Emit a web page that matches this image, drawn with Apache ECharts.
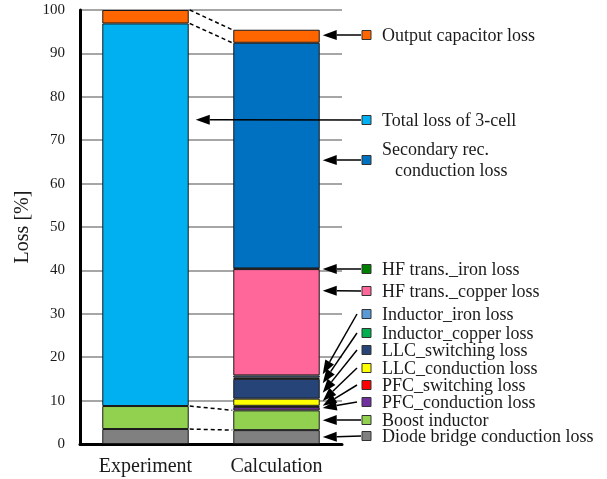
<!DOCTYPE html>
<html>
<head>
<meta charset="utf-8">
<script src="https://cdn.jsdelivr.net/npm/echarts@6/dist/echarts.min.js"></script>
<style>
  html, body { margin: 0; padding: 0; background: #fff; }
  #lossChart { width: 607px; height: 479px; }
</style>
</head>
<body>
<div id="lossChart"></div>
<script>
// ---- data (stack order: bottom -> top) ----
const categories = ["Experiment", "Calculation"];
const diodeBridge    = [3.45, 3.2];
const boostInductor  = [5.3, 4.55];
const pfcConduction  = [null, 0.75];
const pfcSwitching   = [null, 0.3];
const llcConduction  = [null, 1.65];
const llcSwitching   = [null, 4.55];
const inductorCopper = [null, 0.3];
const inductorIron   = [null, 0.5];
const hfCopper       = [null, 24.5];
const hfIron         = [null, 0.15];
const totalLoss3Cell = [88.15, null];
const secondaryRec   = [null, 52.0];
const outputCap      = [3.1, 3.0];

const yMin = 0, yMax = 100, yStep = 10;

const layers = [
  { name: "Diode bridge conduction loss", data: diodeBridge, color: "#808080" },
  { name: "Boost inductor", data: boostInductor, color: "#92D050" },
  { name: "PFC_conduction loss", data: pfcConduction, color: "#7030A0" },
  { name: "PFC_switching loss", data: pfcSwitching, color: "#FF0000" },
  { name: "LLC_conduction loss", data: llcConduction, color: "#FFFF00" },
  { name: "LLC_switching loss", data: llcSwitching, color: "#264478" },
  { name: "Inductor_copper loss", data: inductorCopper, color: "#00B050" },
  { name: "Inductor_iron loss", data: inductorIron, color: "#5B9BD5" },
  { name: "HF trans._copper loss", data: hfCopper, color: "#FF6699" },
  { name: "HF trans._iron loss", data: hfIron, color: "#008000" },
  { name: "Total loss of 3-cell", data: totalLoss3Cell, color: "#00B0F0" },
  { name: "Secondary rec. conduction loss", data: secondaryRec, color: "#0070C0" },
  { name: "Output capacitor loss", data: outputCap, color: "#FF6600" }
];

// legend rows (top -> bottom) and where each arrow points: [category, value]
const legendOrder = [12, 10, 11, 9, 8, 7, 6, 5, 4, 3, 2, 1, 0];
const arrowTargets = [
  [1, 94.2], [0, 74.7], [1, 65.4], [1, 40.3], [1, 35.3], [1, 16.1], [1, 14.0],
  [1, 11.8], [1, 9.9], [1, 8.8], [1, 8.3], [1, 5.5], [1, 1.6]
];
// dashed links between the two bars: tops of these stack layers
const linkLayers = [0, 1, 11, 12];

// ---- layout ----
const legendRowY = [35, 120, 160, 269, 291, 314, 333, 350, 368, 385, 402, 420, 436];
const legendBoxX = 362;
const legendTextX = 382;
const FONT = "Liberation Serif";
const BAR_FRAC = 0.66;

function cumulative(upTo, ci) {
  let s = 0;
  for (let k = 0; k <= upTo; k++) {
    const v = layers[k].data[ci];
    if (v != null) s += v;
  }
  return s;
}

const chartDom = document.getElementById("lossChart");
const chart = echarts.init(chartDom);

const barSeries = layers.map(l => ({
  name: l.name,
  type: "bar",
  stack: "loss",
  barWidth: (BAR_FRAC * 100) + "%",
  data: l.data,
  itemStyle: { color: l.color, borderColor: "#1a1a1a", borderWidth: 1 },
  emphasis: { disabled: true },
  z: 2
}));

const linkData = linkLayers.map(k => [0, cumulative(k, 0), cumulative(k, 1)]);

const arrowData = arrowTargets.map((t, i) => [t[0], t[1], i]);

// legend drawn as graphic elements
const legendGraphics = [];
legendOrder.forEach((li, row) => {
  const y = legendRowY[row];
  legendGraphics.push({
    type: "rect",
    shape: { x: legendBoxX, y: y - 4.5, width: 9, height: 9 },
    style: { fill: layers[li].color, stroke: "#333", lineWidth: 1 },
    z: 10
  });
  if (li === 11) {
    legendGraphics.push({
      type: "text", x: legendTextX, y: y - 10,
      style: { text: "Secondary rec.", font: "18px " + FONT, fill: "#1a1a1a", verticalAlign: "middle" }
    });
    legendGraphics.push({
      type: "text", x: legendTextX + 13, y: y + 11,
      style: { text: "conduction loss", font: "18px " + FONT, fill: "#1a1a1a", verticalAlign: "middle" }
    });
  } else {
    legendGraphics.push({
      type: "text", x: legendTextX, y: y + 1,
      style: { text: layers[li].name, font: "18px " + FONT, fill: "#1a1a1a", verticalAlign: "middle" }
    });
  }
});

const option = {
  animation: false,
  textStyle: { fontFamily: FONT },
  grid: { left: 80, right: 265, top: 10, bottom: 35 },
  xAxis: {
    type: "category",
    data: categories,
    axisLine: { lineStyle: { color: "#000", width: 3 } },
    axisTick: { show: false },
    axisLabel: {
      margin: 13,
      formatter: "{c|{value}}",
      rich: { c: { fontFamily: FONT, fontSize: 20, color: "#1a1a1a" } }
    }
  },
  yAxis: {
    type: "value",
    min: yMin,
    max: yMax,
    interval: yStep,
    name: "Loss [%]",
    nameLocation: "middle",
    nameGap: 47,
    nameTextStyle: { fontFamily: FONT, fontSize: 20, color: "#1a1a1a" },
    axisLine: { show: true, lineStyle: { color: "#000", width: 3 } },
    axisTick: { show: false },
    axisLabel: {
      margin: 15,
      formatter: "{t|{value}}",
      rich: { t: { fontFamily: FONT, fontSize: 15, color: "#1a1a1a" } }
    },
    splitLine: { lineStyle: { color: "#A6A6A6", width: 2 } }
  },
  graphic: legendGraphics,
  series: barSeries.concat([
    {
      type: "custom",
      name: "links",
      data: linkData,
      encode: { x: 0, y: [1, 2] },
      z: 3,
      renderItem: (params, api) => {
        const half = api.size([1, 0])[0] * BAR_FRAC / 2;
        const p0 = api.coord([0, api.value(1)]);
        const p1 = api.coord([1, api.value(2)]);
        return {
          type: "line",
          shape: { x1: p0[0] + half + 1, y1: p0[1], x2: p1[0] - half - 1, y2: p1[1] },
          style: { stroke: "#000", lineWidth: 1.5, lineDash: [4, 3] }
        };
      }
    },
    {
      type: "custom",
      name: "arrows",
      data: arrowData,
      encode: { x: 0, y: 1 },
      z: 5,
      renderItem: (params, api) => {
        const ci = api.value(0);
        const row = api.value(2);
        const half = api.size([1, 0])[0] * BAR_FRAC / 2;
        const p = api.coord([ci, api.value(1)]);
        const tipX = p[0] + half + (ci === 0 ? 7 : 3);
        const tipY = p[1];
        const tailY = legendRowY[row];
        const tailX = Math.abs(tailY - tipY) > 4 ? legendBoxX - 5 : legendBoxX - 1;
        const dx = tipX - tailX, dy = tipY - tailY;
        const len = Math.sqrt(dx * dx + dy * dy);
        const ux = dx / len, uy = dy / len;
        const headLen = 14, headHalf = 5;
        const bx = tipX - ux * headLen, by = tipY - uy * headLen;
        const nx = -uy, ny = ux;
        return {
          type: "group",
          children: [
            {
              type: "line",
              shape: { x1: tailX, y1: tailY, x2: bx, y2: by },
              style: { stroke: "#000", lineWidth: 1.5 }
            },
            {
              type: "polygon",
              shape: { points: [[tipX, tipY], [bx + nx * headHalf, by + ny * headHalf], [bx - nx * headHalf, by - ny * headHalf]] },
              style: { fill: "#000" }
            }
          ]
        };
      }
    }
  ])
};

chart.setOption(option);
window.addEventListener("resize", () => chart.resize());
</script>
</body>
</html>
